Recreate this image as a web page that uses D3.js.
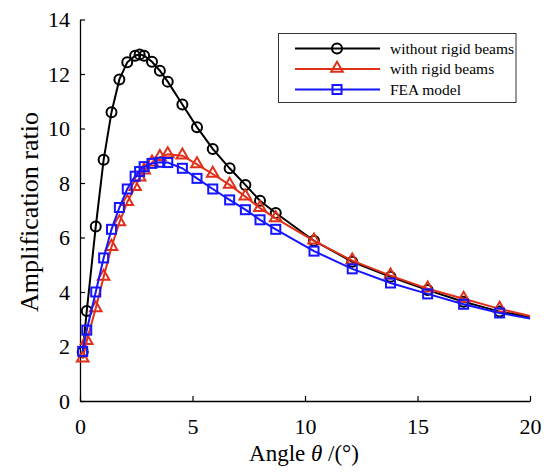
<!DOCTYPE html>
<html>
<head>
<meta charset="utf-8">
<script src="https://cdn.jsdelivr.net/npm/d3@7"></script>
<style>
  body { margin: 0; background: #fff; }
  svg { display: block; }
  .tick text { font-family: "Liberation Serif", "Times New Roman", serif; }
</style>
</head>
<body>
<div id="chart"></div>
<script>
// angles (deg) shared by all three curves
const angles = [0.12, 0.3, 0.7, 1.05, 1.4, 1.75, 2.1, 2.45, 2.65, 2.85, 3.2, 3.55, 3.9,
    4.55, 5.2, 5.9, 6.65, 7.35, 8.0, 8.7, 10.4, 12.1, 13.8, 15.45, 17.05, 18.65, 20];

const withoutRigid = [1.8, 3.3, 6.4, 8.85, 10.6, 11.8, 12.43, 12.67, 12.72, 12.67, 12.45, 12.12, 11.72,
    10.88, 10.05, 9.25, 8.54, 7.93, 7.35, 6.9, 5.88, 5.11, 4.56, 4.07, 3.64, 3.28, 3.08];

const withRigid = [1.55, 2.2, 3.4, 4.55, 5.65, 6.55, 7.3, 7.85, 8.2, 8.45, 8.75, 8.95, 9.05,
    9.0, 8.68, 8.33, 7.93, 7.5, 7.08, 6.7, 5.88, 5.15, 4.6, 4.12, 3.75, 3.38, 3.12];

const feaModel = [1.82, 2.6, 4.0, 5.25, 6.3, 7.1, 7.78, 8.25, 8.42, 8.6, 8.72, 8.76, 8.75,
    8.54, 8.17, 7.78, 7.38, 7.02, 6.65, 6.3, 5.5, 4.85, 4.33, 3.93, 3.55, 3.23, 3.03];

const xTicks = [0, 5, 10, 15, 20];
const yTicks = [0, 2, 4, 6, 8, 10, 12, 14];

const series = [
    {name: "without rigid beams", values: withoutRigid, color: "#000000", marker: "circle"},
    {name: "with rigid beams", values: withRigid, color: "#e0301a", marker: "triangle"},
    {name: "FEA model", values: feaModel, color: "#1515ff", marker: "square"}
];

const width = 544, height = 472;
const margin = {top: 19.5, right: 14, bottom: 71, left: 80};

let svg = d3.select("#chart").append("svg")
    .attr("width", width)
    .attr("height", height);

let x = d3.scaleLinear().domain([0, 20]).range([margin.left, width - margin.right]);
let y = d3.scaleLinear().domain([0, 14]).range([height - margin.bottom, margin.top]);

const font = "Liberation Serif, Times New Roman, serif";

// axes, ticks pointing inward
let xAxis = svg.append("g")
    .attr("transform", `translate(0,${y(0)})`)
    .call(d3.axisBottom(x).tickValues(xTicks).tickSizeInner(-5).tickSizeOuter(0).tickPadding(17));
let yAxis = svg.append("g")
    .attr("transform", `translate(${x(0)},0)`)
    .call(d3.axisLeft(y).tickValues(yTicks).tickSizeInner(-5).tickSizeOuter(0).tickPadding(10));

[xAxis, yAxis].forEach(a => {
    a.select(".domain").attr("stroke", "#000").attr("stroke-width", 1.3);
    a.selectAll(".tick line").attr("stroke", "#000").attr("stroke-width", 1.2);
    a.selectAll(".tick text").attr("font-size", 22).attr("fill", "#000");
});

// curves
let line = d3.line()
    .x((d, i) => x(angles[i]))
    .y(d => y(d));

let triangle = d3.symbol().type(d3.symbolTriangle).size(58);

function drawMarker(sel, kind, color) {
    if (kind === "circle") {
        sel.append("circle").attr("r", 5)
            .attr("fill", "none").attr("stroke", color).attr("stroke-width", 2);
    } else if (kind === "square") {
        sel.append("rect").attr("x", -4.5).attr("y", -4.5).attr("width", 9).attr("height", 9)
            .attr("fill", "none").attr("stroke", color).attr("stroke-width", 2);
    } else {
        sel.append("path").attr("d", triangle).attr("transform", "translate(0,-0.5)")
            .attr("fill", "none").attr("stroke", color).attr("stroke-width", 2);
    }
}

series.forEach(s => {
    svg.append("path")
        .datum(s.values)
        .attr("fill", "none")
        .attr("stroke", s.color)
        .attr("stroke-width", 2)
        .attr("d", line);

    // last point (20 deg) has no marker
    let pts = svg.append("g").selectAll("g")
        .data(s.values.slice(0, -1))
        .enter().append("g")
        .attr("transform", (d, i) => `translate(${x(angles[i])},${y(d)})`);
    drawMarker(pts, s.marker, s.color);
});

// axis titles
svg.append("text")
    .attr("x", 304).attr("y", 461)
    .attr("text-anchor", "middle")
    .attr("font-family", font).attr("font-size", 23)
    .html('Angle <tspan font-style="italic">θ</tspan> /(°)');

svg.append("text")
    .attr("transform", "translate(38,212) rotate(-90)")
    .attr("text-anchor", "middle")
    .attr("font-family", font).attr("font-size", 26)
    .text("Amplification ratio");

// legend
let legend = svg.append("g");
legend.append("rect")
    .attr("x", 278.5).attr("y", 33.5).attr("width", 237.5).attr("height", 69)
    .attr("fill", "#fff").attr("stroke", "#333").attr("stroke-width", 1);

series.forEach((s, i) => {
    let row = legend.append("g").attr("transform", `translate(0,${48.5 + i * 20.5})`);
    row.append("line").attr("x1", 295).attr("x2", 380)
        .attr("stroke", s.color).attr("stroke-width", 2);
    drawMarker(row.append("g").attr("transform", "translate(337,0)"), s.marker, s.color);
    row.append("text").attr("x", 390).attr("y", 5)
        .attr("font-family", font).attr("font-size", 15.5)
        .text(s.name);
});
</script>
</body>
</html>
